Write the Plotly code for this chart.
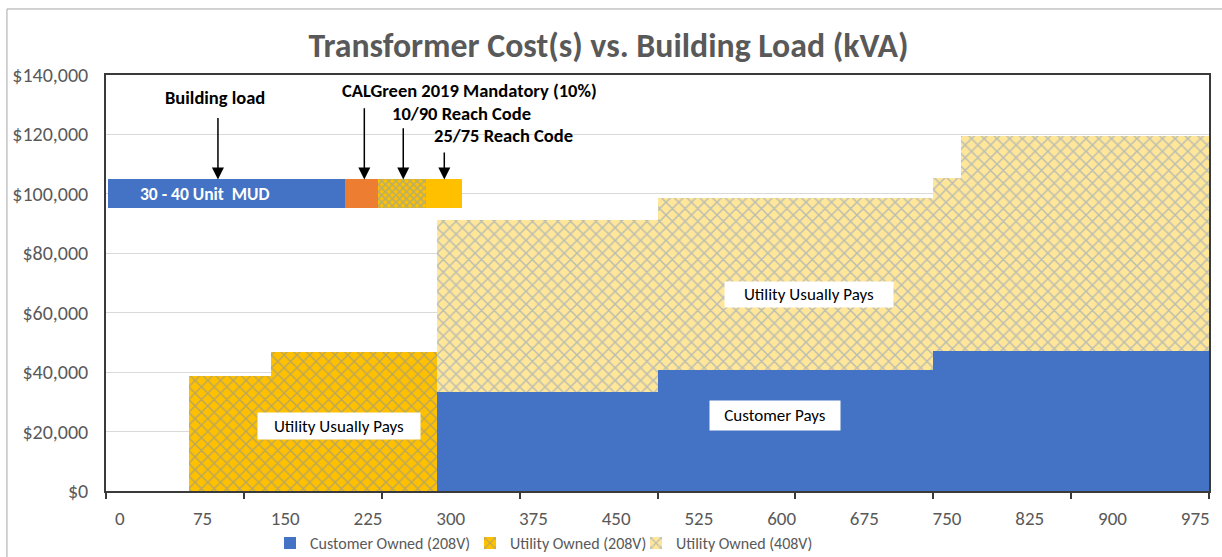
import plotly.graph_objects as go

# ---- data ----
categories = [0, 25, 50, 75, 100, 125, 150, 175, 200, 225,
              250, 275, 300, 325, 350, 375, 400, 425, 450, 475,
              500, 525, 550, 575, 600, 625, 650, 675, 700, 725,
              750, 775, 800, 825, 850, 875, 900, 925, 950, 975]
tick_labels = [0, 75, 150, 225, 300, 375, 450, 525, 600, 675, 750, 825, 900, 975]

customer_208 = [0, 0, 0, 0, 0, 0, 0, 0, 0, 0,
                0, 0, 33200, 33200, 33200, 33200, 33200, 33200, 33200, 33200,
                40700, 40700, 40700, 40700, 40700, 40700, 40700, 40700, 40700, 40700,
                47200, 47200, 47200, 47200, 47200, 47200, 47200, 47200, 47200, 47200]
utility_208 = [0, 0, 0, 38800, 38800, 38800, 46700, 46700, 46700, 46700,
               46700, 46700, 0, 0, 0, 0, 0, 0, 0, 0,
               0, 0, 0, 0, 0, 0, 0, 0, 0, 0,
               0, 0, 0, 0, 0, 0, 0, 0, 0, 0]
utility_408 = [0, 0, 0, 0, 0, 0, 0, 0, 0, 0,
               0, 0, 58000, 58000, 58000, 58000, 58000, 58000, 58000, 58000,
               58000, 58000, 58000, 58000, 58000, 58000, 58000, 58000, 58000, 58000,
               58200, 72400, 72400, 72400, 72400, 72400, 72400, 72400, 72400, 72400]

# building load bar (kVA segments) at the top
load_segments = ["30 - 40 Unit MUD", "CALGreen 2019 Mandatory (10%)", "10/90 Reach Code", "25/75 Reach Code"]
load_starts = [-10.7, 204.0, 234.0, 277.5]
load_ends = [204.0, 234.0, 277.5, 310.0]
load_level = 100000
load_text_x = 77.3
arrow_x = [89.0, 221.7, 257.0, 294.2]
arrow_tail = [126000, 129300, 122600, 114400]
label_names = ["Building load", "CALGreen 2019 Mandatory (10%)", "10/90 Reach Code", "25/75 Reach Code"]
label_x = [86.3, 317.5, 310.2, 347.7]
label_y = [132400, 134700, 127100, 119600]

FONT = "Carlito, Calibri, Lato, sans-serif"
GRAY = "#595959"
AX = "#3a3a3a"

fig = go.Figure()

fig.add_trace(go.Bar(
    x=categories, y=customer_208, base=[0] * len(categories), width=25,
    name="Customer Owned (208V)", legend="legend",
    marker=dict(color="#4472C4", line=dict(width=0))))
fig.add_trace(go.Bar(
    x=categories, y=utility_208, base=[0] * len(categories), width=25,
    name="Utility Owned (208V)", legend="legend2",
    marker=dict(color="#FFC000", line=dict(width=0),
                pattern=dict(shape="x", bgcolor="#FFC000", fgcolor="#6f8cbf", size=9, solidity=0.28))))
fig.add_trace(go.Bar(
    x=categories, y=utility_408, base=customer_208, width=25,
    name="Utility Owned (408V)", legend="legend3",
    marker=dict(color="#FFE699", line=dict(width=0),
                pattern=dict(shape="x", bgcolor="#FFE699", fgcolor="#7393cc", size=9, solidity=0.3))))

seg_markers = [
    dict(color="#4472C4", line=dict(width=0)),
    dict(color="#ED7D31", line=dict(width=0)),
    dict(color="#FFC000", line=dict(width=0),
         pattern=dict(shape="x", bgcolor="#FFC000", fgcolor="#6f9bd1", size=5, solidity=0.5)),
    dict(color="#FFC000", line=dict(width=0)),
]
for name, s, e, mk in zip(load_segments, load_starts, load_ends, seg_markers):
    fig.add_trace(go.Bar(
        y=[load_level], x=[e - s], base=[s], orientation="h", width=9700,
        marker=mk, showlegend=False, name=name, hoverinfo="name"))

annotations = []
annotations.append(dict(x=load_text_x, y=load_level, xref="x", yref="y",
                        text="<b>30 - 40 Unit  MUD</b>", showarrow=False,
                        font=dict(family=FONT, size=17.5, color="white")))
for ax_, tail in zip(arrow_x, arrow_tail):
    annotations.append(dict(x=ax_, y=load_level + 4850, ax=ax_, ay=tail, xref="x", yref="y",
                            axref="x", ayref="y", text="", showarrow=True, arrowhead=2,
                            arrowsize=1.6, arrowwidth=1.5, arrowcolor="black"))
for t, lx, ly in zip(label_names, label_x, label_y):
    annotations.append(dict(x=lx, y=ly, xref="x", yref="y", text="<b>" + t + "</b>",
                            showarrow=False, font=dict(family=FONT, size=18.5, color="black")))

boxes = [("Utility Usually Pays", 198.7, 22000, 162, 26),
         ("Utility Usually Pays", 624.8, 66000, 168, 25),
         ("Customer Pays", 594.0, 25400, 130, 29)]
for t, bx, by, bw, bh in boxes:
    annotations.append(dict(x=bx, y=by, xref="x", yref="y", text=t, showarrow=False,
                            bgcolor="white", width=bw, height=bh, borderpad=0,
                            font=dict(family=FONT, size=17, color="black")))

def legend_at(px):
    return dict(orientation="h", xref="container", yref="container",
                x=px / 1222, xanchor="left", y=0.025, yanchor="middle",
                font=dict(family=FONT, size=16, color=GRAY), itemwidth=30,
                bgcolor="rgba(0,0,0,0)")

fig.update_layout(
    width=1222, height=557,
    margin=dict(l=106, r=13, t=75, b=66, autoexpand=False),
    paper_bgcolor="white", plot_bgcolor="white",
    barmode="overlay", bargap=0,
    title=dict(text="<b>Transformer Cost(s) vs. Building Load (kVA)</b>",
               x=0.498, xanchor="center", y=0.919, yanchor="middle",
               font=dict(family=FONT, size=33.8, color=GRAY)),
    font=dict(family=FONT, color=GRAY),
    legend=legend_at(270),
    legend2=legend_at(470),
    legend3=legend_at(636),
    annotations=annotations,
    showlegend=True,
)
fig.update_xaxes(
    range=[-12.5, 987.5], tickmode="array", tickvals=tick_labels,
    ticktext=[str(v) for v in tick_labels], ticks="", showgrid=False, zeroline=False,
    showline=True, linecolor=AX, linewidth=1.5, mirror=True,
    tickfont=dict(family=FONT, size=19, color=GRAY), ticklabelstandoff=9,
    minor=dict(tickmode="array", tickvals=[-12.5 + 125 * k for k in range(9)],
               ticks="outside", ticklen=6, tickcolor=AX, tickwidth=1.5, showgrid=False),
)
fig.update_yaxes(
    range=[0, 140000], dtick=20000, tickformat=",d", tickprefix="$",
    showgrid=True, gridcolor="#d9d9d9", gridwidth=1, zeroline=False,
    showline=True, linecolor=AX, linewidth=1.5, mirror=True, ticks="",
    tickfont=dict(family=FONT, size=20, color=GRAY), ticklabelstandoff=12,
)

fig.add_shape(type="rect", xref="paper", yref="paper",
              x0=-0.0898, y0=-0.3, x1=1.2, y1=1.1587,
              line=dict(color="#a6a6a6", width=1), fillcolor="rgba(0,0,0,0)", layer="below")

fig.write_html("out.html", config={"displayModeBar": False},
               post_script="document.body.style.margin='0';")
